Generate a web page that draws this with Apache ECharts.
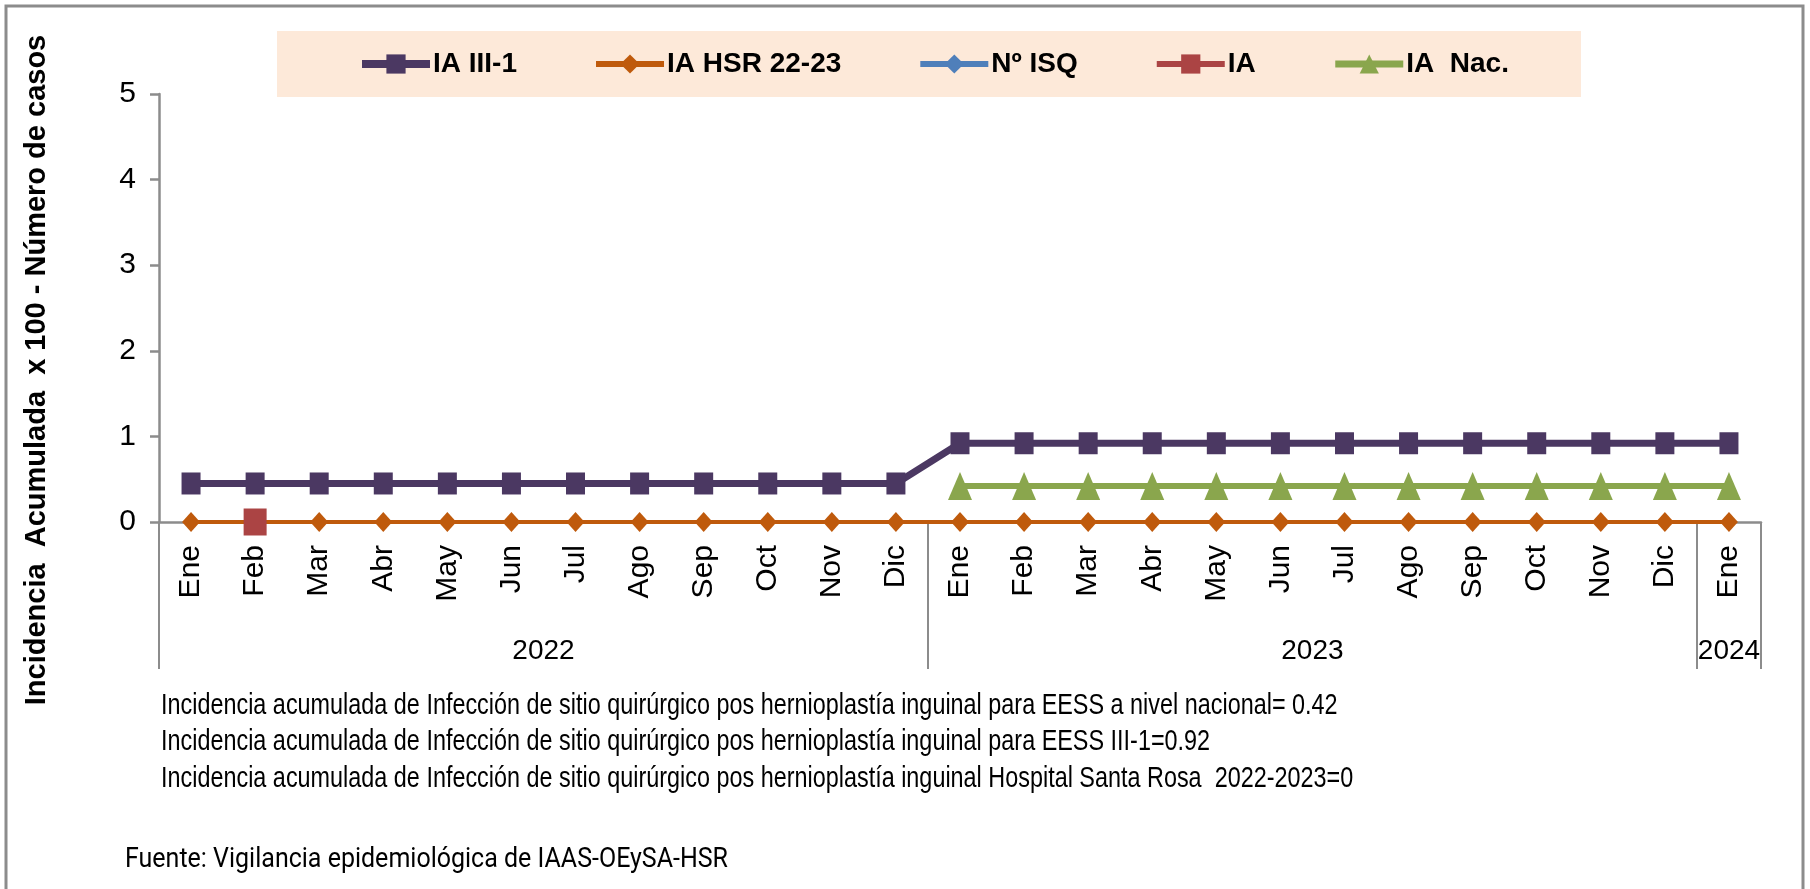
<!DOCTYPE html>
<html>
<head>
<meta charset="utf-8">
<script src="https://cdn.jsdelivr.net/npm/echarts@6/dist/echarts.min.js"></script>
<style>
  html, body { margin: 0; padding: 0; background: #fff; }
  #chart { width: 1810px; height: 889px; }
</style>
</head>
<body>
<div id="chart"></div>
<script>
// meses (eje X)
const months = ["Ene", "Feb", "Mar", "Abr", "May", "Jun", "Jul", "Ago", "Sep", "Oct", "Nov", "Dic",
  "Ene", "Feb", "Mar", "Abr", "May", "Jun", "Jul", "Ago", "Sep", "Oct", "Nov", "Dic", "Ene"];
// años y cuantos meses tiene cada uno
const years = ["2022", "2023", "2024"];
const yearMonths = [12, 12, 1];
const yTicks = [0, 1, 2, 3, 4, 5];

// series
const iaIII1 = [0.45, 0.45, 0.45, 0.45, 0.45, 0.45, 0.45, 0.45, 0.45, 0.45, 0.45, 0.45,
  0.92, 0.92, 0.92, 0.92, 0.92, 0.92, 0.92, 0.92, 0.92, 0.92, 0.92, 0.92, 0.92];
const iaHSR = [0, 0, 0, 0, 0, 0, 0, 0, 0, 0, 0, 0, 0, 0, 0, 0, 0, 0, 0, 0, 0, 0, 0, 0, 0];
const nISQ = [null, null, null, null, null, null, null, null, null, null, null, null,
  null, null, null, null, null, null, null, null, null, null, null, null, null];
const ia = [null, 0, null, null, null, null, null, null, null, null, null, null,
  null, null, null, null, null, null, null, null, null, null, null, null, null];
const iaNac = [null, null, null, null, null, null, null, null, null, null, null, null,
  0.42, 0.42, 0.42, 0.42, 0.42, 0.42, 0.42, 0.42, 0.42, 0.42, 0.42, 0.42, 0.42];

const notes = [
  "Incidencia acumulada de Infección de sitio quirúrgico pos hernioplastía inguinal para EESS a nivel nacional= 0.42",
  "Incidencia acumulada de Infección de sitio quirúrgico pos hernioplastía inguinal para EESS III-1=0.92",
  "Incidencia acumulada de Infección de sitio quirúrgico pos hernioplastía inguinal Hospital Santa Rosa  2022-2023=0"
];
const fuente = "Fuente: Vigilancia epidemiológica de IAAS-OEySA-HSR";

// inicio de cada año (para las lineas separadoras)
const yearStarts = [];
let acc = 0;
yearMonths.forEach(function (n) { yearStarts.push(acc); acc += n; });
// eje auxiliar en medios meses para centrar los años
const yearAxis = [];
for (let i = 0; i <= months.length * 2; i++) yearAxis.push("");
years.forEach(function (y, k) { yearAxis[yearStarts[k] * 2 + yearMonths[k]] = y; });

const arial = "'Liberation Sans', Arial, sans-serif";
const gray = "#8c8c8c";

// linea gruesa en los iconos de la leyenda
function legendItem(name, w) {
  return { name: name, lineStyle: { width: w } };
}

let myChart = echarts.init(document.getElementById("chart"));
myChart.setOption({
  animation: false,
  backgroundColor: "#fff",
  legend: {
    left: 277,
    top: 31,
    padding: [19, 72, 19, 81],
    backgroundColor: "#fde9d9",
    itemGap: 76,
    itemWidth: 68,
    itemHeight: 24,
    textStyle: { fontFamily: arial, fontWeight: "bold", fontSize: 28, color: "#000", lineHeight: 28, padding: [0, 0, 0, -2] },
    data: [
      legendItem("IA III-1", 8),
      legendItem("IA HSR 22-23", 6),
      legendItem("Nº ISQ", 6),
      legendItem("IA", 6),
      legendItem("IA  Nac.", 7)
    ]
  },
  grid: { left: 159, right: 49, top: 94, bottom: 367 },
  xAxis: [
    {
      type: "category",
      data: months,
      position: "bottom",
      axisLine: { lineStyle: { color: gray, width: 2.5 } },
      axisTick: {
        show: true,
        length: 147,
        interval: function (index) { return yearStarts.indexOf(index) >= 0; },
        lineStyle: { color: gray, width: 2 }
      },
      axisLabel: {
        interval: 0,
        rotate: 90,
        margin: 23,
        fontFamily: arial,
        fontSize: 30,
        color: "#000"
      }
    },
    {
      type: "category",
      data: yearAxis,
      position: "bottom",
      boundaryGap: false,
      axisLine: { show: false, onZero: false },
      axisTick: { show: false },
      axisLabel: {
        interval: 0,
        margin: 129,
        verticalAlign: "middle",
        fontFamily: arial,
        fontSize: 28,
        color: "#000"
      }
    }
  ],
  yAxis: {
    type: "value",
    min: yTicks[0],
    max: yTicks[yTicks.length - 1],
    interval: 1,
    axisLine: { show: true, lineStyle: { color: gray, width: 2.5 } },
    axisTick: { show: true, length: 9, lineStyle: { color: gray, width: 2.5 } },
    splitLine: { show: false },
    axisLabel: { margin: 23, fontFamily: arial, fontSize: 30, color: "#000" }
  },
  series: [
    {
      name: "IA III-1",
      type: "line",
      data: iaIII1,
      symbol: "rect",
      symbolSize: [19, 22],
      color: "#4b3862",
      lineStyle: { width: 7, color: "#4b3862" },
      itemStyle: { color: "#4b3862" }
    },
    {
      name: "IA HSR 22-23",
      type: "line",
      data: iaHSR,
      symbol: "diamond",
      symbolSize: [18, 20],
      color: "#bf5a0c",
      lineStyle: { width: 4, color: "#bf5a0c" },
      itemStyle: { color: "#bf5a0c" }
    },
    {
      name: "Nº ISQ",
      type: "line",
      data: nISQ,
      symbol: "diamond",
      symbolSize: [18, 20],
      color: "#4f7fba",
      lineStyle: { width: 5, color: "#4f7fba" },
      itemStyle: { color: "#4f7fba" }
    },
    {
      name: "IA",
      type: "line",
      data: ia,
      symbol: "rect",
      symbolSize: [23, 27],
      color: "#ab4444",
      lineStyle: { width: 5, color: "#ab4444" },
      itemStyle: { color: "#ab4444" }
    },
    {
      name: "IA  Nac.",
      type: "line",
      data: iaNac,
      symbol: "triangle",
      symbolSize: [24, 28],
      color: "#8aa64d",
      lineStyle: { width: 6, color: "#8aa64d" },
      itemStyle: { color: "#8aa64d" }
    }
  ],
  graphic: [
    {
      type: "rect",
      shape: { x: 6, y: 6, width: 1797, height: 900 },
      style: { fill: null, stroke: gray, lineWidth: 3 },
      silent: true
    },
    {
      type: "text",
      x: 37,
      y: 370,
      rotation: Math.PI / 2,
      style: {
        text: "Incidencia  Acumulada  x 100 - Número de casos",
        fontFamily: arial,
        fontWeight: "bold",
        fontSize: 29,
        fill: "#000",
        align: "center",
        verticalAlign: "middle"
      }
    },
    {
      type: "text", x: 161, y: 706, scaleX: 0.936, scaleY: 1.15,
      style: { text: notes[0], fontFamily: arial, fontSize: 25, fill: "#000", align: "left", verticalAlign: "middle" }
    },
    {
      type: "text", x: 161, y: 742, scaleX: 0.936, scaleY: 1.15,
      style: { text: notes[1], fontFamily: arial, fontSize: 25, fill: "#000", align: "left", verticalAlign: "middle" }
    },
    {
      type: "text", x: 161, y: 779, scaleX: 0.936, scaleY: 1.15,
      style: { text: notes[2], fontFamily: arial, fontSize: 25, fill: "#000", align: "left", verticalAlign: "middle" }
    },
    {
      type: "text", x: 125, y: 860, scaleY: 1.12,
      style: { text: fuente, fontFamily: "Roboto, sans-serif", fontSize: 25, fill: "#000", align: "left", verticalAlign: "middle" }
    }
  ]
});
</script>
</body>
</html>
